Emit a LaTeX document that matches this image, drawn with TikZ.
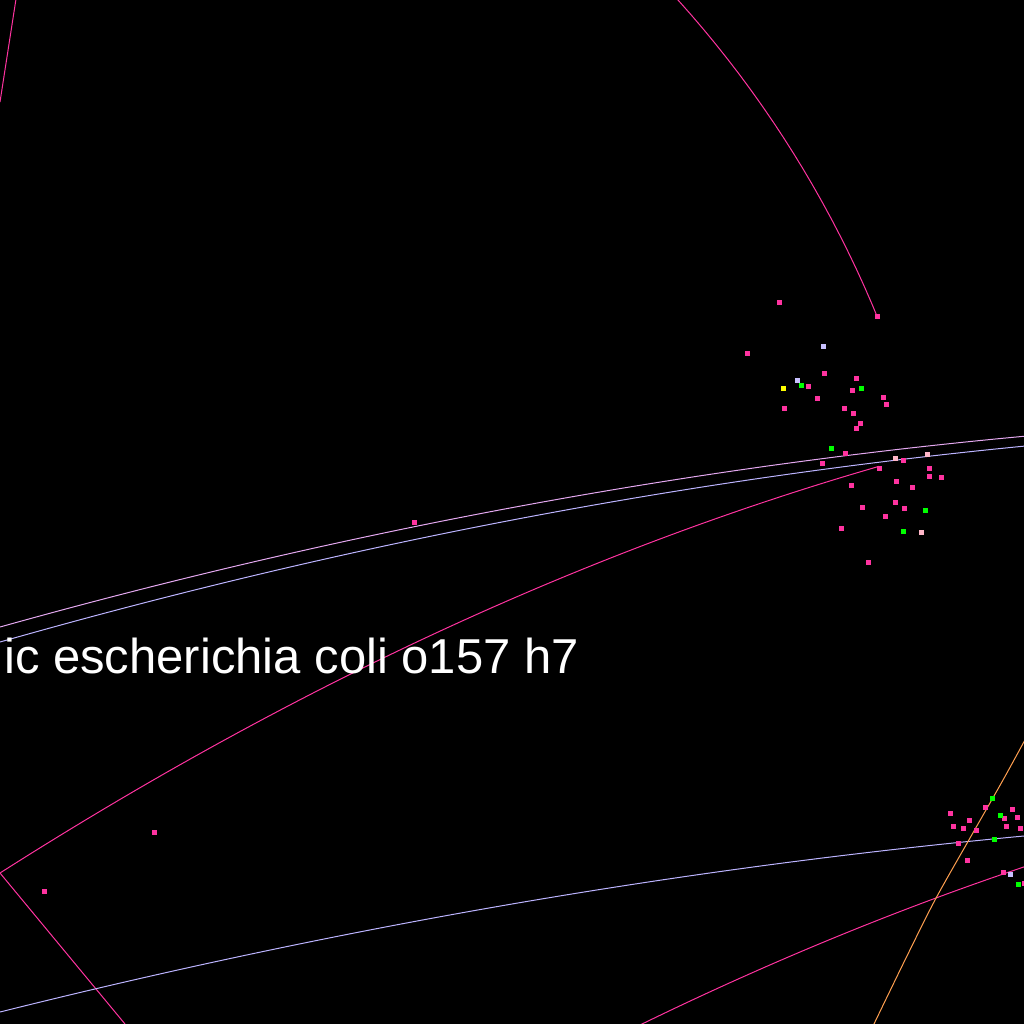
\documentclass[tikz,border=0pt]{standalone}
\usepackage{fontspec}
\setmainfont{Liberation Sans}
\definecolor{pk}{RGB}{255,51,160}
\definecolor{plumline}{RGB}{228,168,240}
\definecolor{lav}{RGB}{188,180,255}
\definecolor{lavdot}{RGB}{200,192,255}
\definecolor{gr}{RGB}{0,255,0}
\definecolor{yl}{RGB}{255,255,0}
\definecolor{lpk}{RGB}{255,182,200}
\definecolor{org}{RGB}{255,160,80}
\tikzset{
  edge/.style={line width=1pt},
  dotbox/.style={rectangle, inner sep=0pt, minimum size=5pt, draw=none},
  label/.style={text=white, inner sep=0pt, anchor=base west, font=\fontsize{49}{49}\selectfont}
}
\begin{document}
\begin{tikzpicture}[x=1pt,y=-1pt]
\fill[black] (0,0) rectangle (1024,1024);
\useasboundingbox (0,0) rectangle (1024,1024);
\begin{scope}
\clip (0,0) rectangle (1024,1024);
% curves
\draw[edge, pk] (16,-1) -- (0,102);
\draw[edge, pk] plot[domain=-42.2:-22.36, samples=80] ({-133.9+1093.1*cos(\x)}, {731.9+1093.1*sin(\x)});
\draw[edge, plumline] plot[domain=0:1030, samples=60] (\x, {627-0.28*\x+0.000085*\x*\x});
\draw[edge, lav] plot[domain=0:1030, samples=60] (\x, {642-0.285*\x+0.000088*\x*\x});
\draw[edge, pk] plot[domain=0:879, samples=60] (\x, {873-0.637*\x+0.0002*\x*\x});
\draw[edge, pk] (0,873) -- (125,1024);
\draw[edge, lav] plot[domain=0:1030, samples=60] (\x, {1012-0.25*\x+0.00008*\x*\x});
\draw[edge, pk] plot[domain=640:1030, samples=40] (\x, {1024-0.487*(\x-642)+0.0002*(\x-642)*(\x-642)});
\draw[edge, org] plot[smooth] coordinates {(873,1026) (905,960) (935,900) (970,838) (1003,780) (1026,738)};
\end{scope}
% label
\node[label] (lbl) at (4,673) {ic escherichia coli o157 h7};
% pink dots
\foreach \px/\py [count=\i] in {
779/302, 877/316, 747/353, 824/373, 808/386, 856/378, 852/390, 817/398,
883/397, 886/404, 784/408, 844/408, 853/413, 860/423, 856/428, 845/453,
822/463, 903/460, 879/468, 929/468, 929/476, 941/477, 896/481, 851/485,
912/487, 895/502, 862/507, 904/508, 885/516, 841/528, 868/562,
414/522, 154/832, 44/891,
985/807, 1012/809, 950/813, 1004/818, 1017/817, 969/820, 953/826, 963/828,
976/830, 1006/826, 1020/828, 958/843, 967/860, 1003/872, 1024/883}
  \node[dotbox, fill=pk] (p\i) at (\px,\py) {};
% green dots
\foreach \px/\py [count=\i] in {801/385, 861/388, 831/448, 925/510, 903/531, 992/798, 1000/815, 994/839, 1018/884}
  \node[dotbox, fill=gr] (g\i) at (\px,\py) {};
% lavender dots
\foreach \px/\py [count=\i] in {823/346, 797/380, 1010/874}
  \node[dotbox, fill=lavdot] (v\i) at (\px,\py) {};
% light pink dots
\foreach \px/\py [count=\i] in {895/458, 927/454, 921/532}
  \node[dotbox, fill=lpk] (l\i) at (\px,\py) {};
% yellow dot
\node[dotbox, fill=yl] (y1) at (783,388) {};
\end{tikzpicture}
\end{document}
